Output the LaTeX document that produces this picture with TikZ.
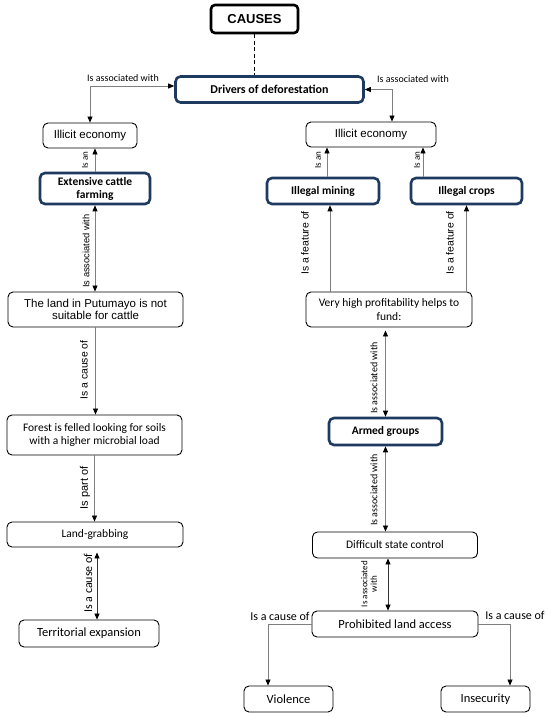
\documentclass[tikz,border=0pt]{standalone}
\usepackage{fontspec}
\setmainfont{Carlito}
\newfontfamily\arial{Liberation Sans}
\usetikzlibrary{arrows.meta}
\definecolor{navy}{HTML}{1F3A60}
\definecolor{linegray}{HTML}{7F7F7F}
\begin{document}
\begin{tikzpicture}[x=1pt,y=-1pt,
 box/.style={draw=black, line width=0.9pt, rounded corners=5pt, align=center, inner sep=0pt, font=\fontsize{11.5}{13.3}\selectfont},
 keybox/.style={draw=navy, line width=2.6pt, rounded corners=5pt, align=center, inner sep=0pt, font=\bfseries\fontsize{11.5}{13}\selectfont},
 tip/.tip={Triangle[color=black,length=6pt,width=5pt]},
 link/.style={draw=linegray, line width=0.8pt, -tip},
 both/.style={draw=linegray, line width=0.8pt, tip-tip},
 lab/.style={font=\fontsize{10}{11}\selectfont, inner sep=0pt, align=center},
 alab/.style={font=\arial\fontsize{10.4}{12}\selectfont, inner sep=0pt},
]
\fill[white] (0,0) rectangle (550,718);
\useasboundingbox (0,0) rectangle (550,718);

% nodes
\node[box, line width=2.6pt, rounded corners=4pt, font=\arial\bfseries\fontsize{13}{15}\selectfont, minimum width=87pt, minimum height=28pt] (causes) at (254.5,19) {CAUSES};
\node[keybox, font=\bfseries\fontsize{12}{14}\selectfont, minimum width=188pt, minimum height=26pt] (drivers) at (269.5,89.5) {Drivers of deforestation};
\node[box, font=\arial\fontsize{11.5}{13}\selectfont, minimum width=94pt, minimum height=25pt] (illL) at (90,135.5) {Illicit economy};
\node[box, font=\arial\fontsize{11.5}{13}\selectfont, minimum width=130pt, minimum height=25pt] (illR) at (371,134.5) {Illicit economy};
\node[keybox, minimum width=110pt, minimum height=31pt] (cattle) at (95,188.5) {Extensive cattle\\farming};
\node[keybox, minimum width=112pt, minimum height=26pt] (mining) at (323,191) {Illegal mining};
\node[keybox, minimum width=111pt, minimum height=26pt] (crops) at (466.5,191) {Illegal crops};
\node[box, font=\arial\fontsize{11.5}{12.5}\selectfont, minimum width=175pt, minimum height=35pt] (land) at (95.5,309.5) {The land in Putumayo is not\\suitable for cattle};
\node[box, minimum width=166pt, minimum height=35pt] (profit) at (389,309.5) {Very high profitability helps to\\fund:};
\node[box, minimum width=175pt, minimum height=40pt] (forest) at (94.5,435) {Forest is felled looking for soils\\with a higher microbial load};
\node[keybox, minimum width=113pt, minimum height=27pt] (armed) at (385.5,431.5) {Armed groups};
\node[box, minimum width=176pt, minimum height=25pt] (lg) at (95,534.5) {Land-grabbing};
\node[box, minimum width=165pt, minimum height=26pt] (diff) at (395,545) {Difficult state control};
\node[box, font=\fontsize{12.5}{14}\selectfont, minimum width=166pt, minimum height=26pt] (prohib) at (395,624) {Prohibited land access};
\node[box, font=\fontsize{12.5}{14}\selectfont, minimum width=140pt, minimum height=27pt] (terr) at (89,633.5) {Territorial expansion};
\node[box, font=\fontsize{12.5}{14}\selectfont, minimum width=89pt, minimum height=26pt] (viol) at (288.5,699) {Violence};
\node[box, font=\fontsize{12.5}{14}\selectfont, minimum width=89pt, minimum height=26pt] (insec) at (485.5,699) {Insecurity};

% connectors
\draw[line width=1.6pt, dash pattern=on 4pt off 2.5pt] (causes.south) -- (causes.south |- drivers.north);
\draw[both] ([yshift=3.5pt]drivers.west) -| (illL.north);
\draw[both] (drivers.east) -| ([xshift=21pt]illR.north);
\draw[link] (cattle.north) -- (cattle.north |- illL.south);
\draw[link] ([xshift=4pt]mining.north) -- ([xshift=4pt]mining.north |- illR.south);
\draw[link] ([xshift=-43.5pt]crops.north) -- ([xshift=-43.5pt]crops.north |- illR.south);
\draw[both] (cattle.south) -- (cattle.south |- land.north);
\draw[link] (land.south) -- (land.south |- forest.north);
\draw[link] (forest.south) -- (forest.south |- lg.north);
\draw[both, draw=black!80, shorten <=5pt] ([xshift=2pt]lg.south) -- ([xshift=2pt]lg.south |- terr.north);
\draw[link] ([xshift=7pt]mining.south |- profit.north) -- ([xshift=7pt]mining.south);
\draw[link] (crops.south |- profit.north) -- (crops.south);
\draw[both, shorten <=3pt] (armed.north |- profit.south) -- (armed.north);
\draw[both] (armed.south) -- (armed.south |- diff.north);
\draw[both, draw=black!80] ([xshift=-7pt]diff.south) -- ([xshift=-7pt]diff.south |- prohib.north);
\draw[link] (prohib.west) -| ([xshift=-20.5pt]viol.north);
\draw[link] (prohib.east) -| ([xshift=24.5pt]insec.north);

% labels
\node[lab] (l1) at (123,78) {Is associated with};
\node[lab] (l2) at (413,79) {Is associated with};
\node[lab, font=\fontsize{9}{10}\selectfont, rotate=90] (l3) at (85,160) {Is an};
\node[lab, font=\fontsize{9}{10}\selectfont, rotate=90] (l4) at (318,160) {Is an};
\node[lab, font=\fontsize{9}{10}\selectfont, rotate=90] (l5) at (417,160) {Is an};
\node[alab, font=\arial\fontsize{9.3}{11}\selectfont, rotate=90] (l6) at (86,251) {Is associated with};
\node[alab, rotate=90] (l7) at (305,243) {Is a feature of};
\node[alab, rotate=90] (l8) at (450,243) {Is a feature of};
\node[alab, rotate=90] (l9) at (84,370) {Is a cause of};
\node[lab, rotate=90] (l10) at (374,378) {Is associated with};
\node[alab, font=\arial\fontsize{11}{12}\selectfont, rotate=90] (l11) at (85,488) {Is part of};
\node[lab, rotate=90] (l12) at (374,490) {Is associated with};
\node[lab, font=\fontsize{12}{13}\selectfont, rotate=90] (l13) at (88,583) {Is a cause of};
\node[lab, font=\fontsize{9}{9.5}\selectfont, rotate=90] (l14) at (369,584) {Is associated\\with};
\node[lab, font=\fontsize{12}{13}\selectfont] (l15) at (280,616) {Is a cause of};
\node[lab, font=\fontsize{12}{13}\selectfont] (l16) at (515,615) {Is a cause of};
\end{tikzpicture}
\end{document}
